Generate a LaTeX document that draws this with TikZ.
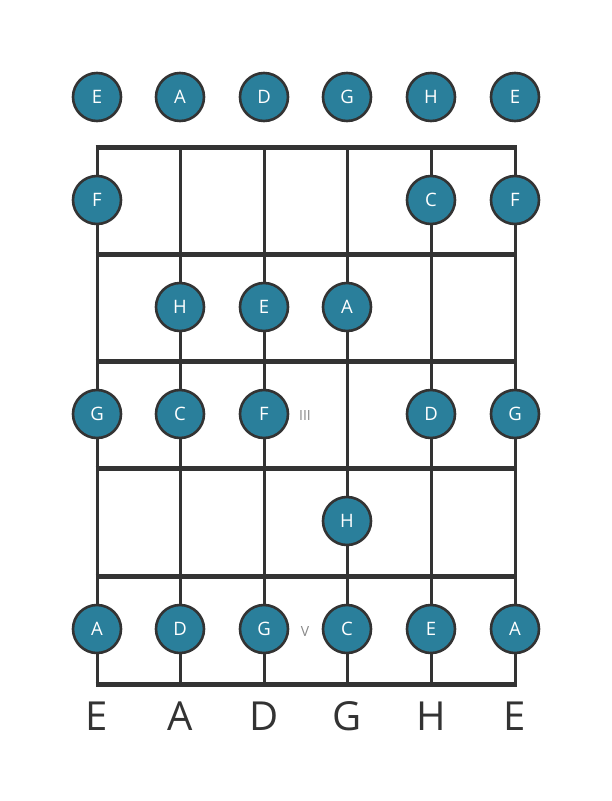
\documentclass[tikz,border=0pt]{standalone}
\usepackage{fontspec}
\setmainfont{Open Sans}
\definecolor{notefill}{HTML}{2A7F9B}
\definecolor{dark}{HTML}{333333}
\definecolor{numgray}{HTML}{888888}
\begin{document}
\begin{tikzpicture}[x=1pt,y=-1pt,
  note/.style={circle,draw=dark,line width=2.6pt,fill=notefill,minimum size=48pt,inner sep=0pt,text=white,font=\fontsize{18.5}{18.5}\selectfont},
  stringline/.style={dark,line width=3pt},
  fretline/.style={dark,line width=5pt},
  bottomlbl/.style={text=dark,font=\fontsize{40}{40}\selectfont},
  fretnum/.style={text=numgray,font=\fontsize{14}{14}\selectfont}]
\useasboundingbox (0,0) rectangle (611,801);
% string coordinates
\foreach \n/\x in {1/97,2/180,3/264,4/347,5/431,6/515}{
  \coordinate (st\n) at (\x,147);
  \coordinate (sb\n) at (\x,684);
}
\foreach \n in {1,...,6}{ \draw[stringline] (st\n) -- (sb\n); }
\foreach \f/\y in {0/147,1/254,2/361,3/468,4/576,5/684}{
  \coordinate (fl\f) at (95.5,\y);
  \coordinate (fr\f) at (516.5,\y);
  \draw[fretline] (fl\f) -- (fr\f);
}
% open strings
\node[note] (o1) at (97,97) {E};
\node[note] (o2) at (180,97) {A};
\node[note] (o3) at (264,97) {D};
\node[note] (o4) at (347,97) {G};
\node[note] (o5) at (431,97) {H};
\node[note] (o6) at (515,97) {E};
% fret 1
\node[note] (a1) at (97,200) {F};
\node[note] (a5) at (431,200) {C};
\node[note] (a6) at (515,200) {F};
% fret 2
\node[note] (b2) at (180,307) {H};
\node[note] (b3) at (264,307) {E};
\node[note] (b4) at (347,307) {A};
% fret 3
\node[note] (c1) at (97,414) {G};
\node[note] (c2) at (180,414) {C};
\node[note] (c3) at (264,414) {F};
\node[note] (c5) at (431,414) {D};
\node[note] (c6) at (515,414) {G};
\node[fretnum] (n3) at (305,415) {III};
% fret 4
\node[note] (d4) at (347,521) {H};
% fret 5
\node[note] (e1) at (97,629) {A};
\node[note] (e2) at (180,629) {D};
\node[note] (e3) at (264,629) {G};
\node[note] (e4) at (347,629) {C};
\node[note] (e5) at (431,629) {E};
\node[note] (e6) at (515,629) {A};
\node[fretnum] (n5) at (305,631) {V};
% bottom labels
\node[bottomlbl] (l1) at (97,716) {E};
\node[bottomlbl] (l2) at (180,716) {A};
\node[bottomlbl] (l3) at (264,716) {D};
\node[bottomlbl] (l4) at (347,716) {G};
\node[bottomlbl] (l5) at (431,716) {H};
\node[bottomlbl] (l6) at (515,716) {E};
\end{tikzpicture}
\end{document}
